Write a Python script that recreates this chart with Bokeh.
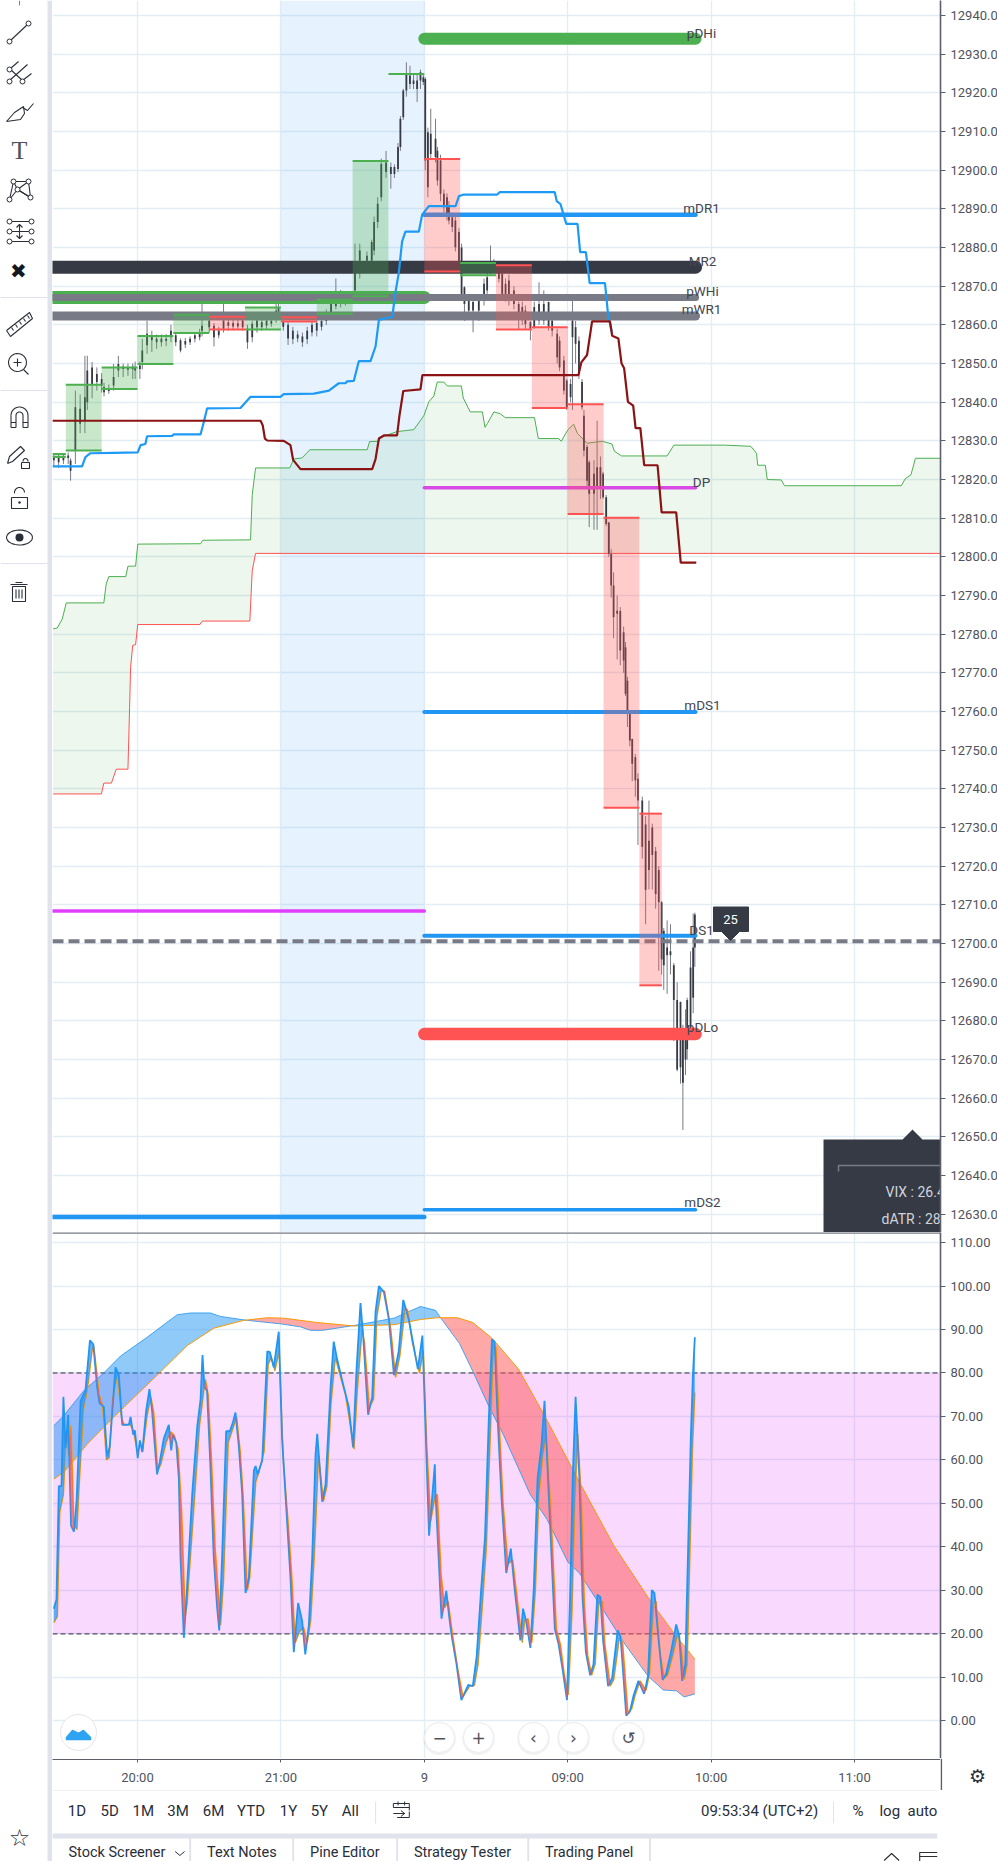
import numpy as np
from bokeh.plotting import figure
from bokeh.layouts import row, column
from bokeh.models import Range1d, FixedTicker, NumeralTickFormatter
from bokeh.core.properties import value
from bokeh.embed import file_html
from bokeh.resources import INLINE

# ---- time axis: chart minutes since the 20:00 tick (session gap collapsed)
time_ticks = [0, 60, 120, 180, 240, 300]
time_labels = ["20:00", "21:00", "9", "09:00", "10:00", "11:00"]
price_ticks = list(range(12630, 12950, 10))
osc_ticks = list(range(0, 120, 10))

# ---- candles
bar_t = [-35,-33,-31,-29,-28,-26,-24,-22,-21,-19,
-17,-15,-14,-12,-10,-8,-6,-4,-2,-1,
1,2,4,6,8,10,12,14,16,18,
20,22,24,26,27,30,32,34,36,38,
40,42,44,46,48,50,52,54,56,58,
59,61,63,65,67,69,71,73,75,77,
79,81,83,85,87,89,91,93,96,98,
99,100.5,102,104,106,107.5,109,110,111.2,112.5,
114,115.5,117,118.4,119.6,120.4,121.5,122.7,124.7,125.5,
126.8,128.2,129.5,130.3,131.7,133,134.5,135.6,136.8,138.6,
140.4,142.8,145,146.3,147.7,149.1,151.2,152.6,154,155.4,
157.5,159.5,161,162.3,164.4,166,168,170,172,173.5,
175.6,176.6,178.4,179.6,181.2,182,183.3,184.7,186,186.8,
188.1,189,191,192.3,193.7,194.8,196.1,197.2,198.2,199.2,
200.7,202,203.4,204.2,205,206,207,208.3,209.4,211.2,
212.6,214,215.4,216.8,218.1,219.3,220.2,221.6,223,224.4,
225.8,227.2,228.2,229.3,230,231.4,232.5,233.2]
body_hi = [12825.6,12825.6,12825.8,12826.2,12824.9,12838.7,12838.3,12841.3,12848.2,12849,
12847.3,12846,12843.9,12843.5,12846.5,12849.9,12849.2,12849,12849.2,12849,
12849.5,12853.4,12857.7,12857.3,12856.4,12856.4,12856.4,12858.5,12857.3,12856,
12855.8,12856.4,12857.3,12857.7,12859.8,12861.1,12859.8,12858.5,12861.1,12860.7,
12860.5,12860.4,12861.1,12859,12860.3,12861.1,12860.7,12861.1,12861,12863.7,
12864.6,12861,12860,12858.5,12857.5,12857,12858.5,12860,12860.5,12861,
12863,12865.5,12866,12866.5,12867,12867.5,12874.9,12879.2,12877.9,12881.4,
12886.6,12891.3,12901.6,12902,12900.8,12900.8,12906,12913.3,12920.6,12924.9,
12924.5,12923.2,12923.2,12925.3,12924,12923.6,12909.8,12909.4,12908.1,12905,
12902.5,12893.9,12893,12890.4,12887.8,12887,12884,12880,12869.7,12866.3,
12865.9,12866.3,12870.6,12872.3,12875.8,12875.8,12874.5,12873.2,12870.6,12871.5,
12868.9,12865.4,12864.6,12863.7,12860.7,12864.6,12865.4,12865.4,12865.9,12861.1,
12857.7,12855.9,12850.8,12845.6,12844.7,12861.1,12859.4,12855.9,12845.2,12836.5,
12828.4,12824.5,12821.5,12823.2,12823.2,12821.5,12815.4,12808.9,12800.8,12792.6,
12786.1,12786,12780.5,12776.6,12768,12759.4,12752.9,12748.2,12742.6,12737,
12730.8,12726.6,12730,12723.9,12719,12710.7,12703.3,12699,12698,12694.4,
12685.4,12684.9,12678,12678,12685.4,12693.8,12699,12707.5]
body_lo = [12825,12824.5,12825,12825.6,12822.3,12827.5,12834.4,12835.3,12840,12844.7,
12845.2,12844.3,12842.6,12842.9,12844.3,12848.2,12848.6,12848.4,12848.5,12848.2,
12848.6,12850.4,12854.7,12856,12855.5,12855.5,12855.8,12856.8,12855.5,12853.4,
12854.9,12855.5,12856.4,12856.8,12858.5,12859.4,12856.8,12857.3,12859,12859.8,
12859.6,12859.6,12859.4,12855.5,12856.8,12859.4,12859.4,12859.8,12860.3,12861.5,
12862.8,12859.5,12856.5,12856.3,12856.5,12855.5,12856.3,12858,12858.5,12859.5,
12861,12863,12864.8,12865.5,12866,12866.5,12868.9,12876.6,12876.6,12876.6,
12879.2,12886.6,12893,12899.5,12899,12899,12900.3,12906,12913.7,12920.6,
12922.3,12922.3,12921,12923.2,12922.8,12902.5,12895.6,12904.2,12903.4,12897.3,
12893.9,12890.4,12888.7,12887,12885.3,12880.1,12875.8,12868,12865.4,12863.7,
12863.7,12863.7,12866.7,12868.9,12874,12875,12871.9,12868,12868,12868,
12865.4,12862.8,12861.5,12860.2,12859,12859.4,12861.1,12861.1,12859.4,12858.5,
12851.6,12849,12843,12838.7,12841.3,12856.8,12855.1,12847.3,12838.7,12827.5,
12819.7,12816.3,12816.3,12818,12818,12815.4,12808.5,12800.8,12792.6,12784.4,
12785.3,12775.8,12773.2,12764.6,12759.4,12752.5,12746.5,12742.2,12737,12725,
12713.9,12719,12722.9,12712.8,12710.7,12695.9,12694.4,12697,12697,12685.4,
12667.4,12668,12664,12670,12672.7,12678,12686,12699]
wick_hi = [12826.5,12826.5,12826.8,12827,12825.5,12843,12842,12852,12852,12850.4,
12849,12847.5,12845,12844.6,12849.9,12852,12850,12850,12850,12850.5,
12850.5,12856.4,12861.1,12858.5,12857.5,12857.5,12857.6,12860,12858,12856.5,
12856.6,12857,12858,12859,12865.4,12862.5,12860.5,12859.5,12865.4,12862,
12861.8,12862,12862,12860,12861,12862,12861.8,12862,12862,12865.4,
12865.5,12862,12861,12859.5,12858.5,12858,12859.5,12861,12862,12862.5,
12864,12868,12872,12869,12868.5,12868,12881,12881,12879,12882,
12888,12893,12903,12905,12902,12901.5,12907,12914,12921,12927.9,
12927,12925,12925,12926,12925,12924,12911,12915.9,12913.3,12906,
12904,12895,12894,12892,12889,12888,12885,12881,12870,12867,
12866.5,12867,12872,12874,12880.5,12877,12875.5,12874,12872,12873,
12870,12866,12866,12865,12861,12866,12871,12868.9,12866,12862,
12859,12857,12852,12846,12846,12868,12861,12857,12846,12838,
12829,12825,12825,12835.2,12826,12822,12816,12809,12802,12796,
12790,12787,12782,12778,12769,12760,12753,12749,12744,12738,
12733,12737,12731,12725,12720,12711,12704,12706,12705,12695,
12690,12685,12679,12683,12686,12698,12707.8,12708]
wick_lo = [12823.5,12823,12824,12824,12819.7,12824,12832,12832,12838,12841,
12843,12842.5,12841.5,12842.2,12843,12846.5,12846.5,12846.8,12846,12846,
12846,12848.5,12852.5,12853,12853.8,12854.4,12854.5,12855.5,12854.5,12852.9,
12854,12854.8,12855.5,12856,12857,12858,12854.4,12856.5,12858,12858.5,
12858.6,12859,12858.5,12853.8,12855.5,12858,12858.5,12858.8,12859.5,12860.5,
12862,12858.5,12854.8,12855,12855.5,12854.3,12855,12857,12857,12858.5,
12860,12862.5,12864,12864.5,12865,12866,12867.5,12872,12875,12875,
12878,12885,12892,12898,12895.2,12898,12899.5,12905,12913,12919,
12921,12921,12917.6,12921,12922,12900,12893,12903,12902,12896,
12892,12889,12887,12886,12884,12879,12875,12867,12861,12862,
12858.1,12861,12865,12868,12873,12874,12871,12867,12866,12865,
12864,12858.8,12860,12859,12856,12859,12860,12860,12858.5,12857,
12850,12848,12842,12838,12840,12838,12850,12846,12838,12826,
12818,12807.7,12807,12807,12815,12815,12808,12800,12789.5,12779,
12773.5,12772,12770,12764,12756,12751,12742,12738,12725.5,12722,
12705,12714,12714,12709,12693,12692,12688,12687,12692,12674.8,
12667,12663.8,12651.8,12666,12670,12676,12682,12694]

# ---- stepped moving lines on the price pane
blue_t = [-35.6,-23.2,-21.8,-19.7,-9.9,0.1,1.3,3.3,4,14.5,15.2,26.4,27.8,29.1,43.1,47.3,59.8,61.2,73.8,80.1,84.2,87,87.7,90.5,92.6,97.5,99.6,101,106.6,108,109.3,110.7,112.1,117.7,119.1,121.9,133.1,134.5,136.5,150.5,151.5,174.6,175.4,177,179.4,184.1,185.2,187.6,189.2,195.6,196.9,198.5]
blue_v = [12823.4,12823.4,12825.8,12826.8,12826.9,12827,12828.9,12829.2,12831.2,12831.3,12831.7,12831.7,12835,12838.4,12838.5,12841.4,12841.4,12842.1,12842.2,12843,12844.9,12844.9,12845.4,12845.5,12850.6,12850.6,12854.4,12861.3,12862.1,12868.7,12873.3,12881.5,12884.1,12884.1,12888.5,12890.7,12890.7,12893.3,12893.7,12893.7,12894.3,12894.3,12892,12891.2,12886.1,12886.1,12878.8,12878.8,12870.8,12870.8,12862.6,12858]
maroon_t = [-35.6,51.5,52.4,53.3,54.3,61.2,64,65.1,68.2,98.2,99.6,101,103.1,108.6,109.6,111.2,118.4,119.2,184.5,185.7,188.1,190.2,197.7,198.6,201.2,202.5,203.6,205.2,207.4,208.4,210.4,212,217.6,219.3,225.4,227.3,233.8]
maroon_v = [12835.2,12835.2,12834,12830.6,12830.1,12830,12828.9,12825.1,12822.7,12822.7,12825.3,12830.6,12831.4,12831.4,12836.5,12842.9,12843.3,12847,12847,12850.3,12852.2,12860.9,12860.9,12857.2,12856.5,12850.1,12848.8,12840.1,12839.1,12833.3,12833.3,12823.7,12823.7,12811.5,12811.5,12798.5,12798.5]

# ---- cloud
cloud_up_t = [-35.3,-33.6,-31.5,-29.8,-14.1,-13.1,-12,-4.9,-4,-0.8,0.1,26.4,27.3,47.3,48,49.4,63.7,65.4,68.9,72.1,96.1,97.1,101,101.7,108.6,115.6,119.8,121.9,124,125.4,128.2,129.6,135.5,136.3,139.2,144.3,145.4,146.4,149.1,151.8,153.9,166.1,167.7,176.2,177.3,180.1,182.5,184.1,188.1,194.5,198.5,199.6,202.5,221.6,224.4,245.5,256.6,259,259.5,262.7,263.5,269.4,270.7,319.6,321.2,323.6,325.5,336]
cloud_up_v = [12781.4,12781.6,12783.9,12788.1,12788.1,12793,12794.9,12794.9,12797.6,12797.6,12803.3,12803.4,12804.3,12804.4,12816.1,12823,12823,12825.3,12825.6,12827.7,12827.7,12829.8,12829.9,12830.9,12832.4,12832.9,12836.5,12840.1,12841.6,12845.2,12845.2,12844.2,12844.2,12841.1,12837.5,12837.5,12833.5,12834.5,12837.5,12837,12836,12836,12830.6,12830.6,12829.9,12832.9,12834.3,12831.9,12829.4,12829.9,12829.2,12827.3,12826.1,12826.1,12828.9,12828.9,12828.6,12826.8,12823.7,12823.7,12820,12819.9,12818.4,12818.4,12820.2,12821.2,12825.5,12825.5]
cloud_lo_t = [-35.3,-15.1,-14.1,-10.9,-8.9,-4,-3.3,-2.9,-2,-0.8,0.1,26.1,27.1,47,48,49.4,336]
cloud_lo_v = [12738.7,12738.7,12741.5,12741.5,12745.1,12745.1,12761.1,12771.4,12777.1,12777.3,12782.5,12782.5,12783.4,12783.4,12796.4,12800.9,12800.9]

# ---- 15 minute blocks
box_start = [-35.6,-30,-15,0,15,30,45,60,75,90,105,120,135,150,165,180,195,210]
box_end = [-30,-15,0,15,30,45,60,75,90,105,120,135,150,165,180,195,210,219.4]
box_top = [12826.6,12844.5,12849,12857.1,12862.6,12862.1,12864.5,12862,12866.5,12902.4,12924.9,12902.9,12876,12875.4,12859.4,12839.5,12810.1,12733.6]
box_bottom = [12825.8,12827.5,12843.4,12849.9,12857.9,12858.8,12858.8,12860.9,12862.9,12867.4,12924.9,12873.8,12872.8,12858.8,12838.5,12811.1,12735.1,12689.2]
box_dir = ["up","up","up","up","up","down","up","down","up","up","up","down","up","down","down","down","down","down"]

# ---- named levels
level_names = ["pDHi","mDR1","MR2","pWHi","mWR1","DP","mDS1","DS1","pDLo","mDS2"]
level_values = [12934,12888.5,12874.9,12867.1,12862.3,12817.9,12759.9,12702,12676.6,12631.2]
level_from = [120,120,-35.6,-35.6,-35.6,120,120,120,120,120]
level_to = [233.5,233.5,233.5,233.5,233.5,233.5,233.5,233.5,233.5,233.5]
prior_values = [12867.1,12708.4,12629.3]
last_price = 12700.6
last_tag = "25"

# ---- oscillator
k_t = [-35,-33.9,-32.9,-31.8,-31,-30.1,-29,-27.8,-26.6,-25.5,-23.8,-21.8,-19.9,-18.5,-16.9,-15.9,-14.1,-12.7,-11.6,-9.2,-7.8,-6.4,-3.6,-2.9,-1.8,-1.1,0.1,1,2,3.6,5,6.1,8.2,9.3,11,13.1,14.1,14.9,16.2,17.3,18,19.4,20.5,22.9,25,26.4,27.2,28,29.1,30.5,31.9,33.3,34.2,35.4,37.1,38.6,39.9,41,42.4,43.8,45.2,46.6,48.7,49.4,50.3,52.2,54.3,55.4,57,59.1,60.5,62.3,64,65.4,67.2,68.9,70.2,71.7,73.1,74.5,75.2,77.3,78.7,80.8,82.1,83.5,86.3,88.4,90.2,91.6,93.3,94.4,96.5,98.2,99.6,101,103.1,105.2,107.3,109.3,111.2,113.5,117.3,119.2,120.5,122,124.4,124.7,126,127.2,129.2,130.4,131.5,133.5,135.5,138.4,140.3,141.9,143.8,145.4,147,148.3,149.4,150.7,152.3,154.3,156.2,157.8,160.2,161.3,162.6,164.4,165.8,167.4,169,170.3,172.2,174.6,176.2,177.8,179.7,181,182.1,183.3,184.9,186.2,187.6,189.4,190.8,192.4,193.7,194.8,196.9,198.6,200.9,202.1,204.5,206,207.5,209.6,212,213.6,215.2,216.3,217.9,219.7,221.1,223.2,225.4,226.7,227.9,229.2,230.3,231.5,232.4,233.2]
k_v = [25.8,28,54,54,74.5,62.7,70.4,44.9,43.5,50.4,73.6,75.9,87.5,86.6,76.8,73.1,72.2,60.8,63.1,81.3,79.5,68.1,68.1,69.9,65.8,66.8,60.4,64.5,61.8,71.3,76.3,71.3,56.7,59.5,64.9,68.1,62.2,65.8,64,55.8,37.6,19.1,28.5,52.2,67.7,74,84.1,76.8,75.9,58.6,37.6,26.2,20.8,37.6,66.6,66.6,68.6,70.9,63.1,52.2,29.4,33,57.6,58.6,56.7,59.9,85,84.8,81.3,89.5,64.9,48.5,33,15.8,27.1,23,15.3,22,37.6,61.3,66,50.4,54.5,76.8,87.2,83.2,76.8,72.2,62.9,80.4,96.1,88.6,70.4,74.5,94.1,100,98.6,92.3,79.5,85,96.8,92.3,80.9,88.6,67.7,42.6,59,52.2,37.6,23.5,29.9,24,19.4,13,4.8,8.3,8,14.8,30.3,42.2,69.5,87.7,87.2,69.5,51.3,34,39.6,30.3,18.5,25.8,23,16.8,30.3,55.8,63.1,73.6,50.4,21.2,17.6,12.1,4.8,28.5,55.8,74.5,55.8,28.5,15.8,10.5,13,29,28.5,18.5,8,9.9,20.8,19.4,1.2,2.1,5.7,9.2,6.2,10.3,30.1,29.4,19.4,9.4,10.7,15.8,22.2,19.4,9.2,13,37.6,64.9,79.5,88.2]
d_t = [-35,-33.5,-32.5,-31,-29.8,-28.8,-27.8,-26.6,-25.3,-24.2,-22.5,-21,-19,-18.3,-16,-14.6,-13,-11.8,-10.5,-8.3,-6.8,-5.5,-3.2,-1.8,0,1.2,2.2,4,5.6,6.8,8.5,9.8,12,14,15.5,17,18.5,20,20.8,24,26,27.8,28.4,29.6,31,32.5,34.8,36,38,39.5,41.5,43,44.2,46,47,49.5,50.7,53,54.7,56,57.5,59.3,61,63,64.5,66,67.8,69.5,71,72.5,74,75.8,77.8,79.3,81,82.8,84.5,87,89,90.6,92,94,95,97,98.8,100.2,102,103.4,106,108,109.8,112,113,115,118,119.6,121,122.7,124.7,125.5,127,128.5,130,131.8,134,136.2,139,141,142.5,144.5,146,147.6,149,150,151.5,153,155,157,158.5,161,162,163.4,165,166.5,168,169.6,171,173,175.3,177,178.5,180.3,181.8,183,184.2,185.8,187,188.4,190,191.5,193,194.5,195.5,197.8,199.3,201.6,203,205.2,206.8,208.3,210.3,212.8,214.3,216,217,218.6,220.4,221.8,224,226,227.5,228.8,230,231,232.2,233.2]
d_v = [22.6,24,48,52,66,61,68,45,44,56,72,76,85,86.3,75,72.5,60,60.5,74,79.5,70,68,68.2,67,61.5,64,62,70,74.5,71,57.5,59,64,66.5,65.5,62.5,48,24,27,52,68,76,78.6,75,60,40,22,32,64,66.5,69.8,62,52,30,33,55,57,62,82,83.5,80.5,85,60,46,34,18,20.5,21.5,18,23,38,61,50.5,54,73,83.5,80,75,68,62.5,76,90,87,72,74,93,99,98.8,90,79,84,95,94.5,87,80,85,64,46,52,52,34,26,27.5,20,12,5.5,8,8.2,13,28,40,65,86,86,67,50,36,37,30,18,23,23.5,18,30,52,61,66,48,21,17.5,11,6,25,50,66,50,27,15,10.5,13,27,27.5,18,8,9.5,19,18,2,2.8,6,9.2,7,11,27,27.5,16,9.8,10.5,15,20,17,9.5,13,35,62,75.5]
slow_blue_t = [-35,-30.8,-22.5,-14.1,-7.1,4,16.6,22.2,30.5,34.7,45.9,59.8,68.2,72.4,77.3,90.5,107.3,118.4,124.7,126.8,134.7,140.3,146.7,153.1,164.2,171.4,180.1,184.9,194.5,204,213.6,220,225.6,228.7,233.2]
slow_blue_v = [67.9,70.2,75.9,80,83.9,88.2,93.4,93.8,93.8,93,92.1,91.3,90.6,89.8,89.8,90.9,92.6,95.3,94.4,92.7,86.8,80.4,72.7,65.8,52.2,46.3,36.5,34,25.8,17.6,10.3,7.1,6.9,5.5,6.2]
slow_orange_t = [-35,-30.8,-21.1,-9.9,8.2,20.8,31.9,44.5,54.3,61.2,75.2,90.5,107.3,118.4,125.4,133.9,140.3,148.3,159.4,170.6,184.9,199.3,215.2,224.8,233.2]
slow_orange_v = [55.6,57.2,63.6,69.9,79.5,86.3,90.3,92.1,92.7,92.6,91.6,90.8,91.1,92.3,92.7,92.7,91.6,88,80.9,69.9,54.9,40.3,27.1,19.9,14.2]
band_lo, band_hi = 20, 80

# ---- chrome texts
range_buttons = ["1D","5D","1M","3M","6M","YTD","1Y","5Y","All"]
tab_names = ["Stock Screener","Text Notes","Pine Editor","Strategy Tester","Trading Panel"]

# ---------------- page geometry (chrome only)
PX_PER_MIN = 2.39
X0 = 137.0
MAIN_PX = 3.867
LOW_PX = 4.349
mx = lambda px: (px - X0) / PX_PER_MIN
my = lambda py: 12940 - (py - 15) / MAIN_PX
ly = lambda py: 100 - (py - 1285.5) / LOW_PX
x_range = Range1d(mx(52), mx(940))
GRID = "#e4edf4"
AXIS = "#5d606b"
TICK_TEXT = "#50535e"
DARK = "#363a45"
GRAY = "#787b86"
STRIP = "#e0e3eb"
INK = "#2a2e39"
BLUE = "#2196f3"
GREEN = "#4caf50"
RED = "#ff5252"
FONT = value("Roboto")


def style_pane(p, ticks, fmt):
    p.outline_line_color = None
    p.background_fill_color = "white"
    p.border_fill_color = "white"
    p.xgrid.ticker = FixedTicker(ticks=time_ticks)
    p.ygrid.ticker = FixedTicker(ticks=ticks)
    for g in (p.xgrid, p.ygrid):
        g.grid_line_color = GRID
        g.grid_line_width = 1.4
    ax = p.yaxis[0]
    ax.ticker = FixedTicker(ticks=ticks)
    ax.formatter = NumeralTickFormatter(format=fmt)
    ax.minor_tick_line_color = None
    ax.major_tick_in = 0
    ax.major_tick_out = 5
    ax.major_tick_line_color = AXIS
    ax.axis_line_color = AXIS
    ax.axis_line_width = 1.6
    ax.major_label_standoff = 5
    ax.major_label_text_font = "Roboto"
    ax.major_label_text_font_size = "13px"
    ax.major_label_text_color = TICK_TEXT


# ================= main price pane
main = figure(frame_width=888, frame_height=1232, x_range=x_range,
              y_range=Range1d(my(1232), my(0)), x_axis_location=None, y_axis_location="right",
              toolbar_location=None, output_backend="svg",
              min_border_left=0, min_border_right=57, min_border_top=0, min_border_bottom=0)
style_pane(main, price_ticks, "0.0")

# session shade
main.quad(left=[60], right=[120], bottom=[my(1232)], top=[my(0)], fill_color=BLUE, fill_alpha=0.115, line_color=None)

# cloud
main.patch(cloud_up_t + cloud_lo_t[::-1], cloud_up_v + cloud_lo_v[::-1], fill_color=GREEN, fill_alpha=0.1, line_color=None)
main.line(cloud_up_t, cloud_up_v, line_color=GREEN, line_width=1)
main.line(cloud_lo_t, cloud_lo_v, line_color=RED, line_width=1)

# candles
main.segment(bar_t, wick_lo, bar_t, wick_hi, line_color=GRAY, line_width=1)
main.vbar(x=bar_t, width=0.75, bottom=body_lo, top=body_hi, fill_color=DARK, line_color=None)

# level lines
level_style = {
    "pDHi": (GREEN, 12), "mDR1": (BLUE, 4.5), "MR2": (DARK, 13), "pWHi": (GRAY, 7),
    "mWR1": (GRAY, 9), "DP": ("#d84ae6", 3.5), "mDS1": (BLUE, 4), "DS1": (BLUE, 4),
    "pDLo": (RED, 12.5), "mDS2": (BLUE, 3.5),
}
main.line([mx(52), 120], [prior_values[0]] * 2, line_color=GREEN, line_width=13, line_cap="round")
for name, v, a, b in zip(level_names, level_values, level_from, level_to):
    c, w = level_style[name]
    main.line([a, b], [v, v], line_color=c, line_width=w, line_cap="round")
main.line([mx(52), 120], [prior_values[1]] * 2, line_color="#e040fb", line_width=3.5, line_cap="round")
main.line([mx(52), 120], [prior_values[2]] * 2, line_color=BLUE, line_width=4.5, line_cap="round")
main.line([mx(52), mx(940)], [last_price] * 2, line_color=GRAY, line_width=4, line_dash="11 5")

# blocks
box_fill = [GREEN if d == "up" else RED for d in box_dir]
box_alpha = [0.0 if s == 105 else 0.3 for s in box_start]
main.quad(left=box_start, right=box_end, bottom=box_bottom, top=box_top, fill_color=box_fill,
          fill_alpha=box_alpha, line_color=None)
main.segment(box_start, box_top, box_end, box_top, line_color=box_fill, line_width=2)
keep = [i for i, s in enumerate(box_start) if s != 105]
main.segment([box_start[i] for i in keep], [box_bottom[i] for i in keep], [box_end[i] for i in keep],
             [box_bottom[i] for i in keep], line_color=[box_fill[i] for i in keep], line_width=2)

# moving lines
main.line(blue_t, blue_v, line_color="#1e9af5", line_width=2.2)
main.line(maroon_t, maroon_v, line_color="#8b1313", line_width=2.2)

# level names
name_px = {"pDHi": (701, 32), "mDR1": (701, 207), "MR2": (702, 260), "pWHi": (702, 290), "mWR1": (701, 308),
           "DP": (701, 481), "mDS1": (702, 704), "DS1": (701, 929), "pDLo": (702, 1026), "mDS2": (702, 1201)}
main.text([mx(name_px[n][0]) for n in level_names], [my(name_px[n][1]) for n in level_names], text=level_names,
          text_font=FONT, text_font_size="13.5px", text_color="#434651", text_align="center", text_baseline="middle")

# last value tag
main.patch([mx(713), mx(748), mx(748), mx(739), mx(730), mx(721), mx(713)],
           [my(906.5), my(906.5), my(931), my(931), my(940), my(931), my(931)], fill_color=DARK, line_color=DARK,
           line_width=1, line_join="round")
main.text([mx(730)], [my(919)], text=[last_tag], text_font=FONT, text_font_size="13px", text_color="white",
          text_align="center", text_baseline="middle")

# info box
main.patch([mx(823), mx(902), mx(912), mx(922), mx(941), mx(941), mx(823)],
           [my(1139), my(1139), my(1129), my(1139), my(1139), my(1233), my(1233)], fill_color=DARK, line_color=None)
main.line([mx(838), mx(838), mx(941)], [my(1171), my(1165), my(1165)], line_color=GRAY, line_width=1.5)
main.text([mx(885), mx(881)], [my(1191), my(1218)], text=["VIX : 26.4", "dATR : 285"], text_font=FONT,
          text_font_size="14px", text_color="#d1d4dc", text_baseline="middle")


# ================= oscillator pane
def signed_fill(p, xa, ya, xb, yb, alpha):
    xa, ya, xb, yb = map(lambda s: np.asarray(s, float), (xa, ya, xb, yb))
    lo, hi = max(xa[0], xb[0]), min(xa[-1], xb[-1])
    x = np.union1d(xa, xb)
    x = x[(x >= lo) & (x <= hi)]
    d = np.interp(x, xa, ya) - np.interp(x, xb, yb)
    cross = [x[i] + (x[i + 1] - x[i]) * d[i] / (d[i] - d[i + 1]) for i in range(len(x) - 1) if d[i] * d[i + 1] < 0]
    x = np.union1d(x, cross)
    a, b = np.interp(x, xa, ya), np.interp(x, xb, yb)
    runs = {True: [], False: []}
    start = 0
    side = lambda i: (a[i] + a[i + 1]) >= (b[i] + b[i + 1])
    for i in range(1, len(x)):
        if i == len(x) - 1 or side(i) != side(start):
            runs[bool(side(start))].append((x[start:i + 1], a[start:i + 1], b[start:i + 1]))
            start = i
    for up, col in ((True, BLUE), (False, RED)):
        if runs[up]:
            p.patches([list(r[0]) + list(r[0][::-1]) for r in runs[up]],
                      [list(r[1]) + list(r[2][::-1]) for r in runs[up]],
                      fill_color=col, fill_alpha=alpha, line_color=None)


low = figure(frame_width=888, frame_height=526, x_range=x_range, y_range=Range1d(ly(1758), ly(1232)),
             x_axis_location=None, y_axis_location="right", toolbar_location=None, output_backend="svg",
             min_border_left=0, min_border_right=57, min_border_top=0, min_border_bottom=0)
style_pane(low, osc_ticks, "0.00")

low.quad(left=[mx(52)], right=[mx(940)], bottom=[band_lo], top=[band_hi], fill_color="#e040fb", fill_alpha=0.2, line_color=None)
for lvl in (band_lo, band_hi):
    low.line([mx(52), mx(940)], [lvl, lvl], line_color="#2a2e39", line_width=1, line_dash="5 3")
signed_fill(low, slow_blue_t, slow_blue_v, slow_orange_t, slow_orange_v, 0.5)
low.line(slow_blue_t, slow_blue_v, line_color=BLUE, line_width=1, line_alpha=0.8)
low.line(slow_orange_t, slow_orange_v, line_color="#ff9800", line_width=1)
low.line(d_t, d_v, line_color="#ff9800", line_width=1.4)
low.line(k_t, k_v, line_color=BLUE, line_width=1.8)
signed_fill(low, k_t, k_v, d_t, d_v, 0.7)
low.line([mx(52), mx(940)], [ly(1232)] * 2, line_color=GRAY, line_width=2.6)

# floating buttons
btn_px = [439, 478, 533, 573, 628]
btn_sym = ["\u2212", "+", "\u2039", "\u203a", "\u21ba"]
low.scatter([mx(p) for p in btn_px], [ly(1738)] * 5, size=33, marker="circle", fill_color="#000000", fill_alpha=0.05, line_color=None)
low.scatter([mx(p) for p in btn_px], [ly(1737)] * 5, size=30, marker="circle", fill_color="white", line_color="#eceef2")
low.text([mx(p) for p in btn_px], [ly(1737)] * 5, text=btn_sym, text_font=value("DejaVu Sans"), text_font_size="17px",
         text_color="#50535e", text_align="center", text_baseline="middle")
low.scatter([mx(78)], [ly(1732)], size=36, marker="circle", fill_color="white", line_color="#e4e6ea")
low.patch([mx(p) for p in (66, 72, 78, 83, 90, 90, 66)], [ly(q) for q in (1737, 1730, 1733, 1730, 1737, 1739, 1739)],
          fill_color="#2ea3f2", line_color="#2ea3f2", line_width=1.5, line_join="round")

# ================= time axis strip
tax = figure(frame_width=888, frame_height=1, x_range=x_range, y_range=Range1d(0, 1), y_axis_location=None,
             toolbar_location=None, output_backend="svg",
             min_border_left=0, min_border_right=0, min_border_top=0, min_border_bottom=31)
tax.outline_line_color = None
tax.grid.visible = False
tax.border_fill_color = "white"
xa = tax.xaxis[0]
xa.ticker = FixedTicker(ticks=time_ticks)
xa.major_label_overrides = {t: s for t, s in zip(time_ticks, time_labels)}
xa.minor_tick_line_color = None
xa.major_tick_in = 0
xa.major_tick_out = 3
xa.major_tick_line_color = AXIS
xa.axis_line_color = AXIS
xa.axis_line_width = 1.2
xa.major_label_standoff = 7
xa.major_label_text_font = "Roboto"
xa.major_label_text_font_size = "13px"
xa.major_label_text_color = TICK_TEXT

corner = figure(frame_width=57, frame_height=32, x_range=Range1d(940, 997), y_range=Range1d(1790, 1758), x_axis_location=None,
                y_axis_location=None, toolbar_location=None, output_backend="svg",
                min_border_left=0, min_border_right=0, min_border_top=0, min_border_bottom=0)
corner.outline_line_color = None
corner.grid.visible = False
corner.border_fill_color = "white"
corner.quad(left=[940], right=[941.6], top=[1758], bottom=[1790], fill_color=AXIS, line_color=None)
corner.text([977], [1775], text=["\u2699"], text_font=value("DejaVu Sans"), text_font_size="19px", text_color=INK,
            text_align="center", text_baseline="middle")

# ================= bottom bars (page pixel coordinates)
bot = figure(width=945, height=71, x_range=Range1d(52, 997), y_range=Range1d(1861, 1790), x_axis_location=None,
             y_axis_location=None, toolbar_location=None, output_backend="svg", min_border=0)
bot.outline_line_color = None
bot.grid.visible = False
bot.background_fill_color = "white"
bot.border_fill_color = "white"
bot.quad(left=[52], right=[997], top=[1790.6], bottom=[1789], fill_color=STRIP, line_color=None)
bot.quad(left=[52], right=[997], top=[1838], bottom=[1833], fill_color=STRIP, line_color=None)
range_px = [78, 113, 149, 186, 224, 264, 304, 337, 370]
bot.text(range_px, [1810] * 9, text=range_buttons, text_font=FONT, text_font_size="15px", text_color=INK,
         text_align="center", text_baseline="middle")
bot.segment([397, 886], [1801, 1801], [397, 886], [1823, 1823], line_color=STRIP, line_width=1)
bot.text([807], [1810], text=["09:53:34 (UTC+2)"], text_font=FONT, text_font_size="15px", text_color=INK,
         text_align="center", text_baseline="middle")
bot.text([912, 946, 965], [1810] * 3, text=["%", "log", "auto"], text_font=FONT, text_font_size="15px", text_color=INK,
         text_align=["center", "center", "left"], text_baseline="middle")
# calendar icon
bot.multi_line([[433, 433, 416, 416], [416, 433], [421, 421], [428, 428], [416, 428], [424, 428, 424]],
               [[1810, 1803, 1803, 1807], [1807, 1807], [1801, 1805], [1801, 1805], [1813, 1813], [1810, 1813, 1816]],
               line_color=INK, line_width=1)
bot.line([420, 433, 433], [1817, 1817, 1811], line_color=INK, line_width=1)
# tabs
tab_x = [69, 217, 327, 438, 578]
bot.text(tab_x, [1852] * 5, text=tab_names, text_font=FONT, text_font_size="14.5px", text_color=INK, text_baseline="middle")
bot.multi_line([[183, 188, 193]], [[1851, 1855, 1851]], line_color=INK, line_width=1)
bot.quad(left=[198, 308, 419, 559, 689], right=[200, 310, 421, 561, 691], top=[1861] * 5, bottom=[1837] * 5,
         fill_color=STRIP, line_color=None)
bot.multi_line([[940, 948, 956], [978, 978, 997], [978, 997]], [[1860, 1853, 1860], [1861, 1852, 1852], [1856, 1856]],
               line_color=INK, line_width=1.1)

# ================= left tool strip
left = figure(width=52, height=1861, x_range=Range1d(0, 52), y_range=Range1d(1861, 0), x_axis_location=None,
              y_axis_location=None, toolbar_location=None, output_backend="svg", min_border=0)
left.outline_line_color = None
left.grid.visible = False
left.background_fill_color = "white"
left.border_fill_color = "white"
left.quad(left=[47], right=[52], top=[0], bottom=[1861], fill_color=STRIP, line_color=None)
left.segment([0, 0, 0], [297, 390, 563], [47, 47, 47], [297, 390, 563], line_color=STRIP, line_width=1.2)
left.segment([19], [0], [19], [5], line_color=BLUE, line_width=1)


def arc(cx, cy, rx, ry, a0, a1, n=24):
    t = np.radians(np.linspace(a0, a1, n))
    return list(cx + rx * np.cos(t)), list(cy + ry * np.sin(t))


ix, iy = [], []
def add(xs, ys):
    ix.append(list(xs)); iy.append(list(ys))

add([10, 27], [40, 24])                                             # trend line
add([10, 18], [68, 61]); add([9, 27], [80, 64]); add([22, 31], [80, 73]); add([10, 22], [69, 80])  # fork
add([6, 14, 23, 24, 20, 6], [121, 112, 106, 113, 119, 121]); add([22, 27, 33], [107, 110, 103])    # brush
add([9, 13, 28, 30, 17, 9], [199, 181, 181, 197, 189, 199]); add([13, 17, 28], [181, 189, 181]); add([17, 30], [189, 197])  # network
for yy in (221, 231, 241):
    add([9, 31], [yy, yy])
add([19, 19], [224, 238]); add([16, 19, 22], [227, 224, 227]); add([16, 19, 22], [235, 238, 235])  # levels
add([6, 29, 32, 10, 6], [330, 312, 318, 336, 330])                  # ruler
for k in range(5):
    add([11 + 4 * k, 13 + 4 * k], [327 - 3 * k, 330 - 3 * k])
add(*arc(17, 362, 9, 9, 0, 360)); add([23, 28], [369, 374]); add([13, 21], [362, 362]); add([17, 17], [358, 366])  # zoom
a = arc(19, 415, 8.5, 8.5, 180, 360); add(a[0] + [27.5, 27.5], a[1] + [427, 427]); add([10.5, 10.5], [415, 427])  # magnet
b = arc(19, 415, 3.5, 3.5, 180, 360); add([15.5] + b[0] + [22.5], [427] + b[1] + [427]); add([10.5, 15.5], [422, 422]); add([22.5, 27.5], [422, 422]); add([10.5, 15.5], [427, 427]); add([22.5, 27.5], [427, 427])
add([7, 9, 20, 24, 12, 7], [463, 456, 446, 450, 461, 463]); add([21, 29, 29, 21, 21], [462, 462, 468, 468, 462]); b2 = arc(25, 461, 2.5, 3, 180, 360); add(*b2)  # pencil
add([11, 27, 27, 11, 11], [497, 497, 508, 508, 497]); a3 = arc(19, 492, 5, 5, 170, 360); add(a3[0], a3[1])  # lock
add(*arc(19, 537, 13, 7.5, 0, 360))                                  # eye
add([12, 25, 25, 12, 12], [586, 586, 601, 601, 586]); add([10, 27], [584, 584]); add([15, 22], [582, 582])  # trash
for xx in (15.5, 18.5, 21.5):
    add([xx, xx], [589, 598])
left.multi_line(ix, iy, line_color=INK, line_width=1.1)
left.scatter([9, 28, 9, 9, 22, 9, 13, 17, 28, 30, 9, 31, 9, 31, 9, 31], [41, 23, 69, 81, 81, 199, 181, 189, 181, 197, 221, 221, 231, 231, 241, 241],
             size=5, marker="circle", fill_color="white", line_color=INK, line_width=1)
left.scatter([19, 19], [537, 502], size=[8, 2.5], marker="circle", fill_color=INK, line_color=None)
left.text([19], [150], text=["T"], text_font=value("Liberation Serif"), text_font_size="26px", text_color="#50535e",
          text_align="center", text_baseline="middle")
left.text([18], [270], text=["\u2716"], text_font=value("DejaVu Sans"), text_font_size="20px", text_color="#131722",
          text_align="center", text_baseline="middle")
left.text([19], [1837], text=["\u2606"], text_font=value("DejaVu Sans"), text_font_size="24px", text_color=INK,
          text_align="center", text_baseline="middle")

page = row([left, column([main, low, row([tax, corner], spacing=0), bot], spacing=0)], spacing=0)
open("out.html", "w").write(file_html(page, INLINE))
